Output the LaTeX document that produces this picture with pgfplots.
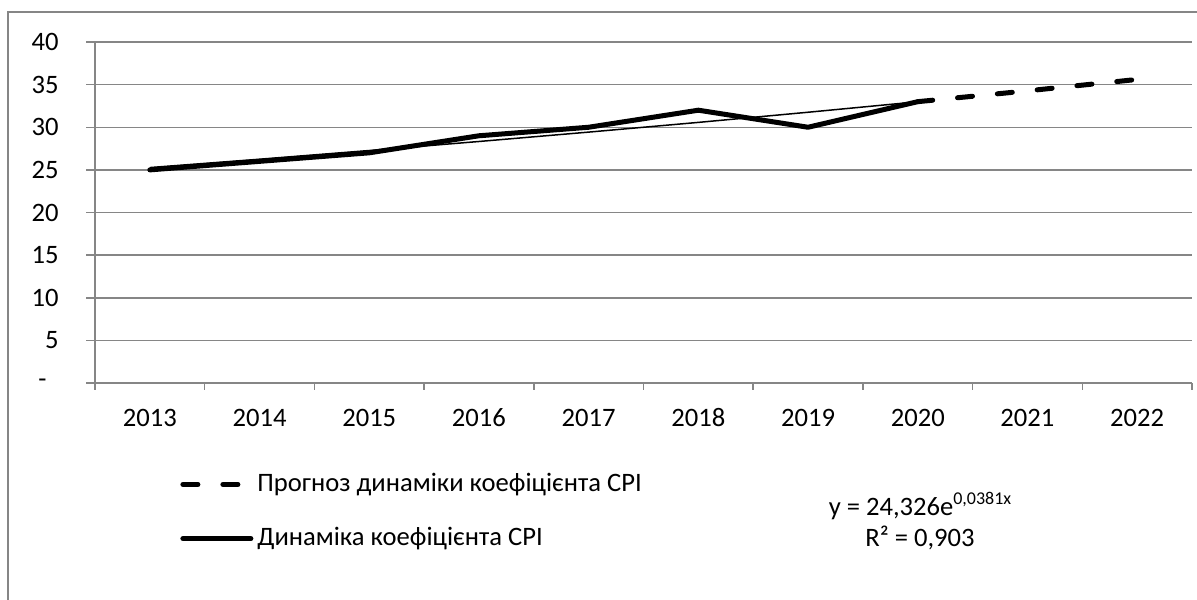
\documentclass[border=0pt]{standalone}
\usepackage{pgfplots}
\pgfplotsset{compat=1.18}
\usepackage{fontspec}
\setmainfont{Carlito}
\definecolor{gridgray}{RGB}{134,134,134}
\newcommand{\cfont}{\fontsize{13.3}{16}\selectfont}
\begin{document}
\cfont
\begin{tikzpicture}
\useasboundingbox (0,0) rectangle (598.5pt,299.5pt);
\begin{scope}
\clip (0,0) rectangle (598.5pt,299.5pt);
\draw[gridgray, line width=0.75pt] (4pt,-10pt) rectangle (610pt,293.5pt);
\end{scope}
\begin{axis}[
  at={(47.5pt,108pt)}, anchor=south west,
  scale only axis, width=548.5pt, height=170.5pt,
  xmin=-0.5, xmax=9.5, ymin=0, ymax=40,
  axis x line*=bottom, axis y line*=left,
  axis line style={gridgray, line width=0.75pt, -},
  xtick={0,1,2,3,4,5,6,7,8,9},
  xticklabels={2013,2014,2015,2016,2017,2018,2019,2020,2021,2022},
  minor xtick={-0.5,0.5,1.5,2.5,3.5,4.5,5.5,6.5,7.5,8.5,9.5},
  major x tick style={draw=none},
  tick style={gridgray, line width=0.75pt},
  tick align=outside,
  major tick length=4.5pt, minor tick length=3.5pt,
  ytick={0,5,10,15,20,25,30,35,40},
  yticklabels={\makebox[14pt][r]{-\hspace*{6pt}},\makebox[14pt][r]{5},\makebox[14pt][r]{10},\makebox[14pt][r]{15},\makebox[14pt][r]{20},\makebox[14pt][r]{25},\makebox[14pt][r]{30},\makebox[14pt][r]{35},\makebox[14pt][r]{40}},
  ymajorgrids, grid style={gridgray, line width=0.75pt},
  /pgf/number format/assume math mode=true,
  tick label style={font=\cfont},
  yticklabel style={anchor=east, inner sep=0pt, xshift=-13.5pt},
  xticklabel style={anchor=base, inner sep=0pt, yshift=-17pt},
  legend style={at={(rel axis cs:0.072,-0.24)}, anchor=north west, draw=none, fill=none,
    font=\cfont, row sep=12pt},
  legend cell align=left,
  legend image code/.code={\draw[#1] (0pt,0pt) -- (34pt,0pt);},
]
\addplot[black, line width=2.5pt, line cap=round, dash pattern=on 7.5pt off 12.5pt]
  coordinates {(7,33) (8,34.27) (9,35.61)};
\addlegendentry{Прогноз динаміки коефіцієнта CPI}
\addplot[black, line width=2.5pt, line join=round, line cap=round]
  coordinates {(0,25) (1,26) (2,27) (3,29) (4,30) (5,32) (6,30) (7,33)};
\addlegendentry{Динаміка коефіцієнта CPI}
\addplot[black, line width=0.75pt, forget plot]
  coordinates {(0,25.27) (1,26.25) (2,27.27) (3,28.33) (4,29.43) (5,30.57) (6,31.76) (7,32.99)};
\end{axis}
\node at (460pt,46.5pt) {y = 24,326e\raisebox{0.45em}{\fontsize{9}{10}\selectfont 0,0381x}};
\node at (460pt,30.5pt) {R² = 0,903};
\end{tikzpicture}
\end{document}
